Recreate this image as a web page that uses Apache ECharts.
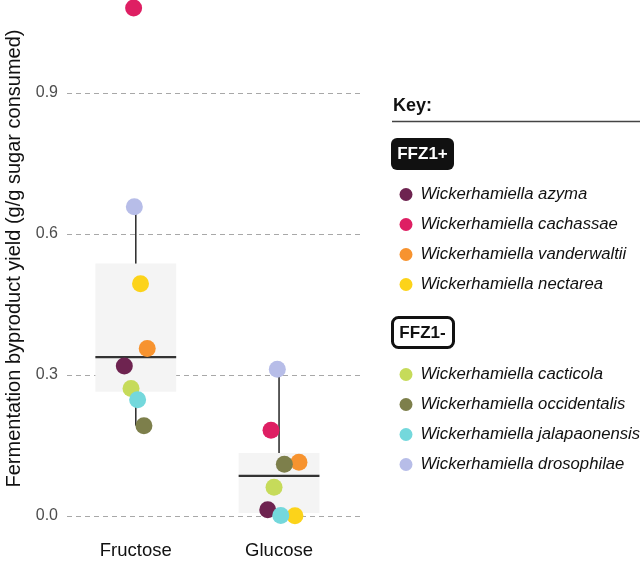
<!DOCTYPE html>
<html>
<head>
<meta charset="utf-8">
<script src="https://cdn.jsdelivr.net/npm/echarts@6/dist/echarts.min.js"></script>
<style>
html,body{margin:0;padding:0;background:#fff;}
#chart{width:640px;height:562px;}
</style>
</head>
<body>
<div id="chart"></div>
<script>
// ---- data ----
const categories = ['Fructose', 'Glucose'];
const species = [
  'Wickerhamiella azyma',
  'Wickerhamiella cachassae',
  'Wickerhamiella vanderwaltii',
  'Wickerhamiella nectarea',
  'Wickerhamiella cacticola',
  'Wickerhamiella occidentalis',
  'Wickerhamiella jalapaonensis',
  'Wickerhamiella drosophilae'
];
const groupPlus = species.slice(0, 4);   // FFZ1+
const groupMinus = species.slice(4);     // FFZ1-
const speciesColors = ['#6E2350', '#DE1F63', '#F7932F', '#FCD31A', '#C6DB5A', '#7D7F4B', '#74D8DC', '#B7BDE8'];
const fructoseValues = [0.319, 1.081, 0.356, 0.494, 0.271, 0.192, 0.247, 0.658];
const glucoseValues  = [0.013, 0.182, 0.114, 0.000, 0.061, 0.110, 0.001, 0.312];
const fructoseJitter = [-0.080, -0.015, 0.080, 0.033, -0.033, 0.057, 0.013, -0.010];
const glucoseJitter  = [-0.079, -0.056, 0.139, 0.111, -0.035, 0.037, 0.012, -0.012];
const boxQ1 = [0.264, 0.006];
const boxMedian = [0.338, 0.085];
const boxQ3 = [0.537, 0.134];
const whiskerLow = [0.192, 0.000];
const whiskerHigh = [0.658, 0.312];
const yTicks = [0, 0.3, 0.6, 0.9];
const yTitle = 'Fermentation byproduct yield (g/g sugar consumed)';

// ---- chart ----
const FONT = '"Liberation Sans", Arial, Helvetica, sans-serif';
const chart = echarts.init(document.getElementById('chart'), null, {renderer: 'canvas'});

const boxData = categories.map((c, i) => [i + 1, boxQ1[i], boxMedian[i], boxQ3[i], whiskerLow[i], whiskerHigh[i]]);
const BOX_HALF = 0.282;

const boxSeries = {
  type: 'custom',
  name: 'box',
  silent: true,
  z: 1,
  data: boxData,
  encode: {x: 0, y: [1, 2, 3, 4, 5]},
  renderItem: function (params, api) {
    const x = api.value(0);
    const pTL = api.coord([x - BOX_HALF, api.value(3)]);
    const pBR = api.coord([x + BOX_HALF, api.value(1)]);
    const pMedL = api.coord([x - BOX_HALF, api.value(2)]);
    const pMedR = api.coord([x + BOX_HALF, api.value(2)]);
    const pLo = api.coord([x, api.value(4)]);
    const pHi = api.coord([x, api.value(5)]);
    return {
      type: 'group',
      children: [
        {type: 'rect', shape: {x: pTL[0], y: pTL[1], width: pBR[0] - pTL[0], height: pBR[1] - pTL[1]},
         style: {fill: '#F4F4F4'}},
        {type: 'line', shape: {x1: pHi[0], y1: pHi[1], x2: pHi[0], y2: pTL[1]},
         style: {stroke: '#333', lineWidth: 1.6}},
        {type: 'line', shape: {x1: pLo[0], y1: pBR[1], x2: pLo[0], y2: pLo[1]},
         style: {stroke: '#333', lineWidth: 1.6}},
        {type: 'line', shape: {x1: pMedL[0], y1: pMedL[1], x2: pMedR[0], y2: pMedR[1]},
         style: {stroke: '#333', lineWidth: 2.2}}
      ]
    };
  }
};

const pointSeries = species.map((name, i) => ({
  type: 'scatter',
  name: name,
  z: 3,
  symbol: 'circle',
  symbolSize: 17,
  itemStyle: {color: speciesColors[i], opacity: 1},
  data: [
    [1 + fructoseJitter[i], fructoseValues[i]],
    [2 + glucoseJitter[i], glucoseValues[i]]
  ]
}));

const legendCommon = {
  orient: 'vertical',
  left: 399.5,
  padding: 0,
  icon: 'circle',
  itemWidth: 13,
  itemHeight: 13,
  itemGap: 13,
  selectedMode: false,
  textStyle: {fontFamily: FONT, fontSize: 16.7, fontStyle: 'italic', color: '#111', lineHeight: 16, padding: [0, 0, 0, 3]}
};

const option = {
  backgroundColor: '#fff',
  animation: false,
  color: speciesColors,
  textStyle: {fontFamily: FONT},
  grid: {left: 67, right: 280, top: 0, bottom: 25, outerBoundsMode: 'none', containLabel: false},
  xAxis: {
    type: 'value',
    min: 0.52,
    max: 2.565,
    axisLine: {show: false},
    axisTick: {show: false, customValues: [1, 2]},
    splitLine: {show: false},
    axisLabel: {
      customValues: [1, 2],
      formatter: v => categories[Math.round(v) - 1],
      fontFamily: FONT, fontSize: 18.5, color: '#111', margin: 4
    }
  },
  yAxis: {
    type: 'value',
    min: -0.045,
    max: 1.098,
    name: yTitle,
    nameLocation: 'middle',
    nameRotate: 90,
    nameGap: 43,
    nameTextStyle: {fontFamily: FONT, fontSize: 20, color: '#111', padding: [0, 0, 0, 20]},
    axisLine: {show: false},
    axisTick: {show: false, customValues: yTicks},
    axisLabel: {
      customValues: yTicks,
      formatter: v => v.toFixed(1),
      fontFamily: FONT, fontSize: 16, color: '#4D4D4D', margin: 9
    },
    splitLine: {show: true, lineStyle: {color: '#A8A8A8', width: 1.2, type: [5, 4]}}
  },
  legend: [
    Object.assign({}, legendCommon, {top: 186, data: groupPlus}),
    Object.assign({}, legendCommon, {top: 366, data: groupMinus})
  ],
  graphic: [
    {type: 'text', left: 393, top: 97, style: {text: 'Key:', font: 'bold 18px ' + FONT, fill: '#111'}},
    {type: 'line', shape: {x1: 392, y1: 121.5, x2: 640, y2: 121.5}, style: {stroke: '#444', lineWidth: 1.5}},
    {type: 'rect', shape: {x: 391, y: 138, width: 63, height: 32, r: 6}, style: {fill: '#111'}},
    {type: 'text', x: 422.5, y: 154.5, style: {text: 'FFZ1+', font: 'bold 17px ' + FONT, fill: '#fff', align: 'center', verticalAlign: 'middle'}},
    {type: 'rect', shape: {x: 392.5, y: 317.5, width: 61, height: 30, r: 6}, style: {fill: '#fff', stroke: '#111', lineWidth: 3}},
    {type: 'text', x: 422.5, y: 333, style: {text: 'FFZ1-', font: 'bold 17px ' + FONT, fill: '#111', align: 'center', verticalAlign: 'middle'}}
  ],
  series: [boxSeries].concat(pointSeries)
};
chart.setOption(option);
</script>
</body>
</html>
